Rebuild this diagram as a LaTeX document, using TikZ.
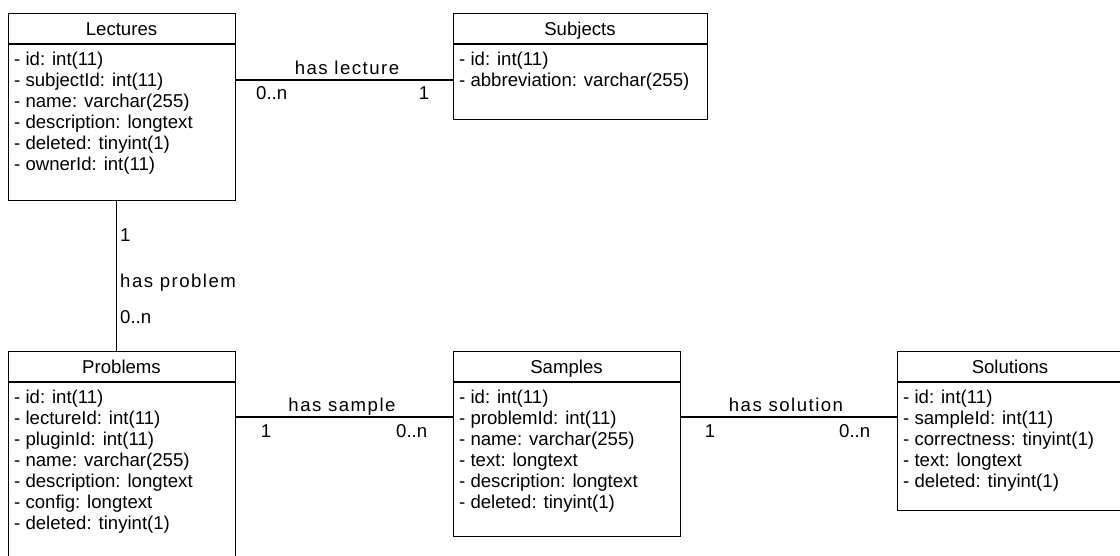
\documentclass[tikz,border=0pt]{standalone}
\usepackage{fontspec}
\setmainfont{Liberation Sans}
\begin{document}
\begin{tikzpicture}[x=1pt,y=-1pt,
  box/.style={draw, line width=1.1pt, anchor=north west, inner sep=0, minimum width=227pt},
  ttl/.style={font=\fontsize{18.6}{21}\selectfont, inner sep=0, anchor=base},
  fields/.style={font=\fontsize{18.6}{20.9}\selectfont, align=left, anchor=north west, inner sep=0},
  conn/.style={line width=1.1pt},
  lbl/.style={font=\fontsize{18.6}{21}\selectfont\addfontfeature{LetterSpace=8}, inner sep=0},
  mult/.style={font=\fontsize{18.6}{21}\selectfont, inner sep=0}
]
\clip (0,0) rectangle (1120,556);
\fill[white] (0,0) rectangle (1120,556);

% boxes
\node[box, minimum height=187pt] (lec) at (8,13) {};
\node[box, minimum width=254pt, minimum height=106pt] (sub) at (453,13) {};
\node[box, minimum height=215pt] (prob) at (8,351) {};
\node[box, minimum height=185pt] (samp) at (453,351) {};
\node[box, minimum width=226pt, minimum height=159pt] (sol) at (897,351) {};

% header separators
\foreach \b in {lec,sub,prob,samp,sol}
  \draw[conn] ([yshift=-31pt]\b.north west) -- ([yshift=-31pt]\b.north east);

% titles
\node[ttl] (lecT) at (121.5,35.5) {Lectures};
\node[ttl] (subT) at (580,35.5) {Subjects};
\node[ttl] (probT) at (121.5,373.5) {Problems};
\node[ttl] (sampT) at (566.5,373.5) {Samples};
\node[ttl] (solT) at (1010,373.5) {Solutions};

% fields
\node[fields] (lecF) at (14,52) {- id: int(11)\\- subjectId: int(11)\\- name: varchar(255)\\- description: longtext\\- deleted: tinyint(1)\\- ownerId: int(11)};
\node[fields] (subF) at (459,52) {- id: int(11)\\- abbreviation: varchar(255)};
\node[fields] (probF) at (14,390) {- id: int(11)\\- lectureId: int(11)\\- pluginId: int(11)\\- name: varchar(255)\\- description: longtext\\- config: longtext\\- deleted: tinyint(1)};
\node[fields] (sampF) at (459,390) {- id: int(11)\\- problemId: int(11)\\- name: varchar(255)\\- text: longtext\\- description: longtext\\- deleted: tinyint(1)};
\node[fields] (solF) at (903,390) {- id: int(11)\\- sampleId: int(11)\\- correctness: tinyint(1)\\- text: longtext\\- deleted: tinyint(1)};

% connectors
\draw[conn] ([yshift=-67pt]lec.north east) -- ([yshift=-67pt]sub.north west);
\draw[conn] ([xshift=-5.5pt]lec.south) -- ([xshift=-5.5pt]prob.north);
\draw[conn] ([yshift=-66pt]prob.north east) -- ([yshift=-66pt]samp.north west);
\draw[conn] ([yshift=-66pt]samp.north east) -- ([yshift=-66pt]sol.north west);

% relation labels
\node[lbl, anchor=base] (l1) at (347,75) {has lecture};
\node[mult, anchor=base west] (l1a) at (256,100) {0..n};
\node[mult, anchor=base] (l1b) at (424,100) {1};

\node[mult, anchor=base west] (l2b) at (120,241.5) {1};
\node[lbl, anchor=base west] (l2) at (120,287.5) {has problem};
\node[mult, anchor=base west] (l2a) at (120,323.5) {0..n};

\node[lbl, anchor=base] (l3) at (342,411) {has sample};
\node[mult, anchor=base] (l3a) at (266,437) {1};
\node[mult, anchor=base west] (l3b) at (396,437) {0..n};

\node[lbl, anchor=base] (l4) at (786,411) {has solution};
\node[mult, anchor=base] (l4a) at (710,437) {1};
\node[mult, anchor=base west] (l4b) at (839,437) {0..n};
\end{tikzpicture}
\end{document}
